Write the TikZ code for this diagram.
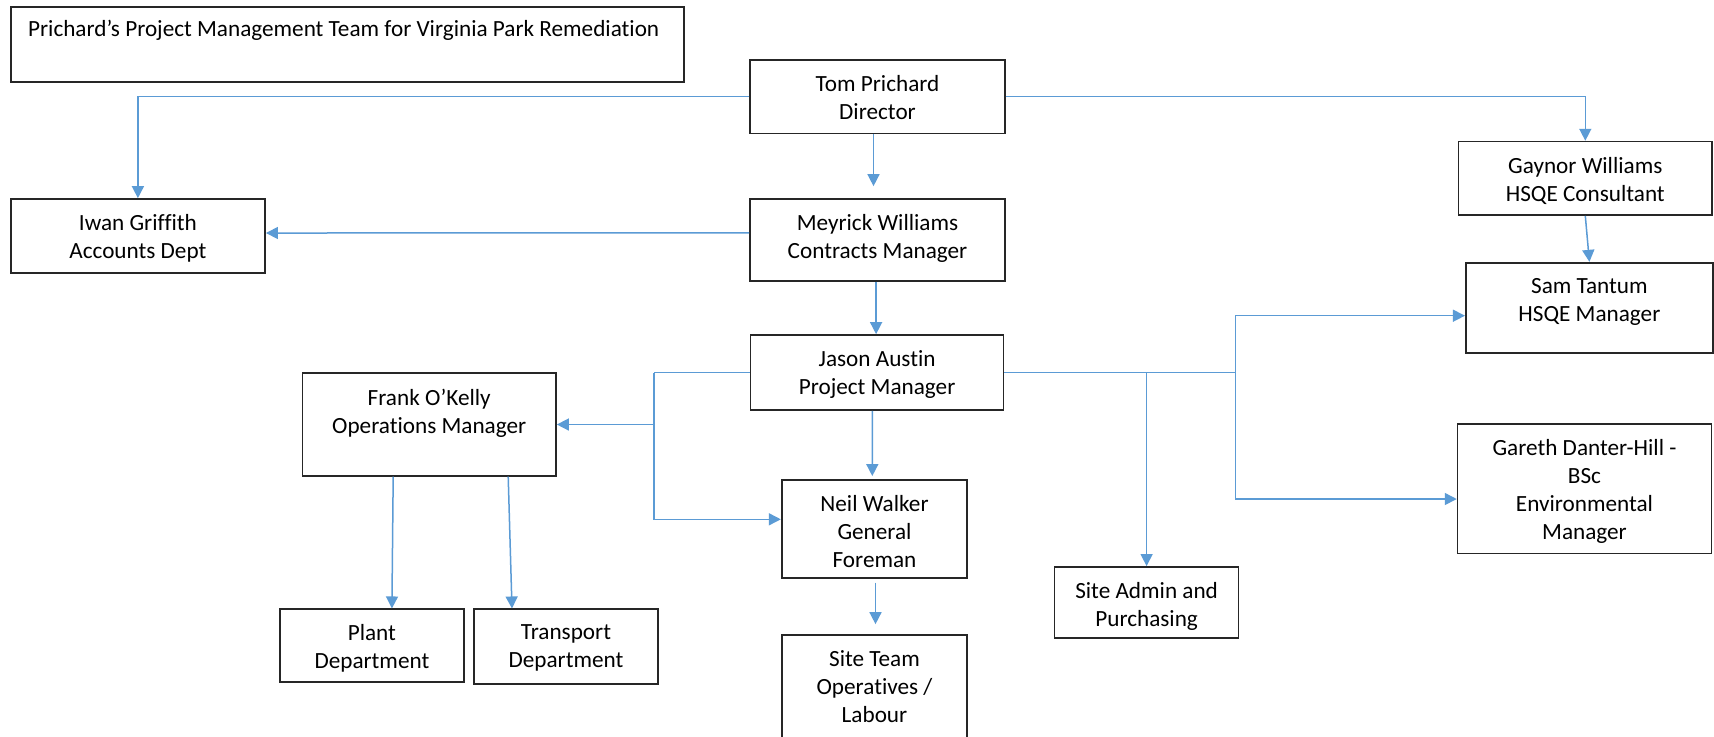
\documentclass[tikz,border=0pt]{standalone}
\usepackage{fontspec}
\setmainfont{Carlito}[Ligatures={NoCommon}]
\usetikzlibrary{arrows.meta}
\definecolor{conncol}{HTML}{5B9BD5}
\definecolor{boxcol}{HTML}{262626}
\begin{document}
\begin{tikzpicture}[x=0.5pt,y=-0.5pt,
  box/.style={draw=boxcol, line width=0.85pt, inner sep=0pt},
  lbl/.style={anchor=north, inner sep=0pt, align=center, font=\fontsize{11.6}{14}\selectfont},
  conn/.style={draw=conncol, line width=0.75pt, -{Triangle[length=6pt,width=6pt]}},
  line/.style={draw=conncol, line width=0.75pt}]
\useasboundingbox (0,0) rectangle (1714,736);
\fill[white] (0,0) rectangle (1714,736);
\clip (0,0) rectangle (1714,736);
% boxes
\node[box, minimum width=336.7pt, minimum height=37.5pt] (title) at (347.35,44.2) {};
\node[anchor=base west, inner sep=0pt, font=\fontsize{11.6}{14}\selectfont] (titlet) at (27.7,36) {Prichard’s Project Management Team for Virginia Park Remediation};
\node[box, minimum width=127.2pt, minimum height=37pt] (iwan) at (137.9,236) {};
\node[box, minimum width=127.2pt, minimum height=36.7pt] (tom) at (877.5,96.7) {};
\node[box, minimum width=127.5pt, minimum height=40.9pt] (meyrick) at (877.5,239.9) {};
\node[box, minimum width=126.5pt, minimum height=37.5pt] (jason) at (877.1,372.5) {};
\node[box, minimum width=126.7pt, minimum height=36.7pt] (gaynor) at (1585.3,178.3) {};
\node[box, minimum width=123.6pt, minimum height=45pt] (sam) at (1589.4,307.7) {};
\node[box, minimum width=126.8pt, minimum height=51.2pt] (frank) at (429.2,424.5) {};
\node[box, minimum width=92.8pt, minimum height=48.9pt] (neil) at (874.5,528.8) {};
\node[box, minimum width=92.8pt, minimum height=55pt] (siteteam) at (874.5,690) {};
\node[box, minimum width=91.9pt, minimum height=36.2pt] (plant) at (371.9,645.5) {};
\node[box, minimum width=91.9pt, minimum height=37.4pt] (transport) at (566,646.7) {};
\node[box, minimum width=92pt, minimum height=35.4pt] (siteadmin) at (1146.6,602.3) {};
\node[box, minimum width=126.9pt, minimum height=64.7pt] (gareth) at (1584.5,488.7) {};
% labels
\node[lbl] (iwant) at ([yshift=-8pt]iwan.north) {Iwan Griffith\\Accounts Dept};
\node[lbl] (tomt) at ([yshift=-8pt]tom.north) {Tom Prichard\\Director};
\node[lbl] (meyrickt) at ([yshift=-8pt]meyrick.north) {Meyrick Williams\\Contracts Manager};
\node[lbl] (jasont) at ([yshift=-8pt]jason.north) {Jason Austin\\Project Manager};
\node[lbl] (gaynort) at ([yshift=-8pt]gaynor.north) {Gaynor Williams\\HSQE Consultant};
\node[lbl] (samt) at ([yshift=-8pt]sam.north) {Sam Tantum\\HSQE Manager};
\node[lbl] (frankt) at ([yshift=-8pt]frank.north) {Frank O’Kelly\\Operations Manager};
\node[lbl] (neilt) at ([yshift=-8pt]neil.north) {Neil Walker\\General\\Foreman};
\node[lbl] (siteteamt) at ([yshift=-8pt]siteteam.north) {Site Team\\Operatives /\\Labour};
\node[lbl] (plantt) at ([yshift=-8pt]plant.north) {Plant\\Department};
\node[lbl] (transportt) at ([yshift=-8pt]transport.north) {Transport\\Department};
\node[lbl] (siteadmint) at ([yshift=-8pt]siteadmin.north) {Site Admin and\\Purchasing};
\node[lbl] (garetht) at ([yshift=-8pt]gareth.north) {Gareth Danter-Hill -\\BSc\\Environmental\\Manager};
% connectors
\coordinate (jl) at (654.2,373.3);
\coordinate (jr) at (1235.4,373.3);
\draw[conn] (tom.west) -| (iwan.north);
\draw[conn] (tom.east) -| (gaynor.north);
\draw[conn] ([xshift=-2pt]tom.south) -- ([xshift=-2pt,yshift=6pt]meyrick.north);
\draw[conn] ([yshift=3.5pt]meyrick.west) -- ([yshift=1.5pt]iwan.east);
\draw[conn] ([xshift=-0.7pt]meyrick.south) -- ([xshift=-0.5pt]jason.north);
\draw[line] (jason.west) -- (jason.west -| jl);
\draw[conn] (jason.west -| jl) |- (frank.east);
\draw[conn] (jason.west -| jl) |- ([yshift=4.75pt]neil.west);
\draw[conn] ([xshift=-2.4pt]jason.south) -- ([xshift=-1.1pt,yshift=1.5pt]neil.north);
\draw[conn] ([xshift=-18pt]frank.south) -- ([xshift=10pt]plant.north);
\draw[conn] ([xshift=39.5pt]frank.south) -- ([xshift=-27pt]transport.north);
\draw[conn] ([xshift=0.5pt,yshift=-2pt]neil.south) -- ([xshift=0.5pt,yshift=5pt]siteteam.north);
\draw[conn] (jason.east) -| (siteadmin.north);
\draw[line] (jason.east) -- (jason.east -| jr);
\draw[conn] (jason.east -| jr) |- ([yshift=-4pt]sam.west);
\draw[conn] (jason.east -| jr) |- ([yshift=-5.15pt]gareth.west);
\draw[conn] (gaynor.south) -- (sam.north);
\end{tikzpicture}
\end{document}
